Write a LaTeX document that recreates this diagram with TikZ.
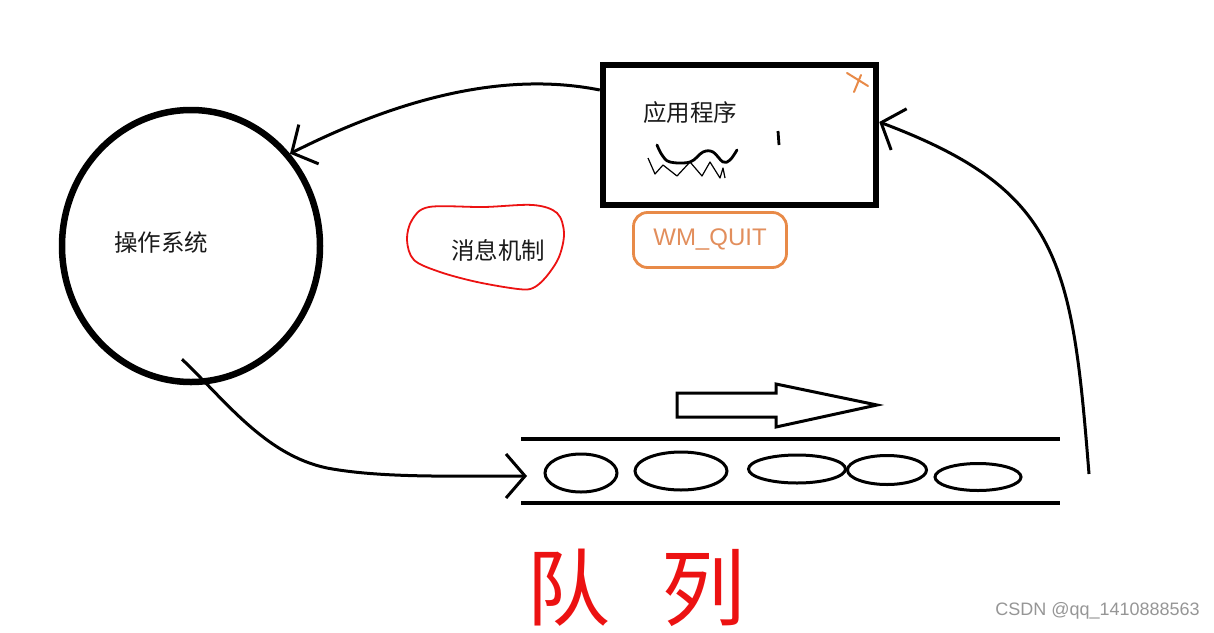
\documentclass[tikz,border=0pt]{standalone}
\usepackage{fontspec}
\newfontfamily\cjk{Noto Sans CJK SC}
\newfontfamily\lsans{Liberation Sans}
\usetikzlibrary{arrows.meta,shapes.geometric}
\definecolor{orangeline}{RGB}{232,138,72}
\definecolor{orangetext}{RGB}{226,142,92}
\definecolor{inkred}{RGB}{236,18,18}
\definecolor{wmgray}{RGB}{150,150,150}
\definecolor{ink}{RGB}{26,26,26}
\tikzset{
  conn/.style={line width=3pt, -{Straight Barb[length=19pt,width=44pt]}},
  qline/.style={line width=3.8pt},
  qitem/.style={ellipse, draw, line width=3pt, inner sep=0pt},
  cjklabel/.style={font=\cjk\fontsize{23.5}{28}\selectfont, text=ink, inner sep=0pt},
}
\begin{document}
\begin{tikzpicture}[x=1pt,y=-1pt]
\useasboundingbox (0,0) rectangle (1214,632);
\fill[white] (0,0) rectangle (1214,632);

% operating system
\node[ellipse, draw, line width=6.5pt, minimum width=258pt, minimum height=272pt, inner sep=0pt] (os) at (191,246) {};
\node[cjklabel] (ostext) at (161,243) {操作系统};

% application box
\node[draw, line width=6.5pt, minimum width=273pt, minimum height=140pt, inner sep=0pt] (app) at (739.5,135) {};
\node[cjklabel] (apptext) at (690,113) {应用程序};
% scribbles inside app box
\draw[line width=2.8pt, line cap=round, line join=round] plot[smooth, tension=0.6] coordinates {(657,145) (662,155) (670,162) (690,162) (703,152) (713,152) (723,162) (730,160) (737,150)};
\draw[line width=1.2pt, line join=round] (648,158) -- (655,174) -- (663,165) -- (677,176) -- (690,162) -- (702,176) -- (710,162) -- (720,178) -- (723,168) -- (725,178);
\draw[line width=2.8pt] (778,131) -- (779,145);
\draw[orangeline, line width=2pt, line cap=round] (847,73) -- (868,86) (861,75) -- (854,92);

% WM_QUIT
\node[draw=orangeline, line width=2.8pt, rounded corners=14pt, minimum width=153pt, minimum height=55pt, inner sep=0pt, font=\lsans\fontsize{24}{28}\selectfont, text=orangetext] (quit) at (710,240) {WM\_QUIT};

% message mechanism
\node[cjklabel] (msg) at (498,250) {消息机制};
\draw[inkred, line width=1.8pt] plot[smooth cycle, tension=0.55] coordinates {(429,207) (484,207) (533,205) (557,213) (564,233) (559,257) (546,277) (533,288) (518,289) (477,282) (440,272) (414,260) (407,240) (412,220)};

% queue
\coordinate (qtl) at (521,439);
\coordinate (qtr) at (1060,439);
\coordinate (qbl) at (521,503);
\coordinate (qbr) at (1060,503);
\draw[qline] (qtl) -- (qtr);
\draw[qline] (qbl) -- (qbr);
\node[qitem, minimum width=72pt, minimum height=38pt] (m1) at (581,473) {};
\node[qitem, minimum width=92pt, minimum height=38pt] (m2) at (681,471) {};
\node[qitem, minimum width=97pt, minimum height=28pt] (m3) at (797,469) {};
\node[qitem, minimum width=79pt, minimum height=29pt] (m4) at (887,470) {};
\node[qitem, minimum width=86pt, minimum height=27pt] (m5) at (978,477) {};

% hollow direction arrow
\draw[line width=3pt, line join=miter] (677,393) -- (776,393) -- (776,384) -- (877,405) -- (776,427) -- (776,417) -- (677,417) -- cycle;

% connectors
\coordinate (qin) at (527,476);
\coordinate (qout) at (1089,474);
\draw[conn] ([yshift=45pt]app.west) .. controls (520,74) and (420,88) .. (os.43);
\draw[conn] ([shift={(-9pt,26pt)}]os.south) .. controls (225,400) and (265,455) .. (327,468) .. controls (380,478) and (450,476) .. (qin);
\draw[conn] (qout) .. controls (1072,260) and (1060,190) .. ([yshift=13pt]app.east);

% queue label
\node[font=\cjk\fontsize{84}{90}\selectfont, text=inkred, inner sep=0pt] (dui) at (568,588) {队};
\node[font=\cjk\fontsize{84}{90}\selectfont, text=inkred, inner sep=0pt] (lie) at (703,588) {列};

% watermark
\node[font=\lsans\fontsize{18}{20}\selectfont, text=wmgray, anchor=east, inner sep=0pt] (wm) at (1200,611) {CSDN @qq\_1410888563};
\end{tikzpicture}
\end{document}
